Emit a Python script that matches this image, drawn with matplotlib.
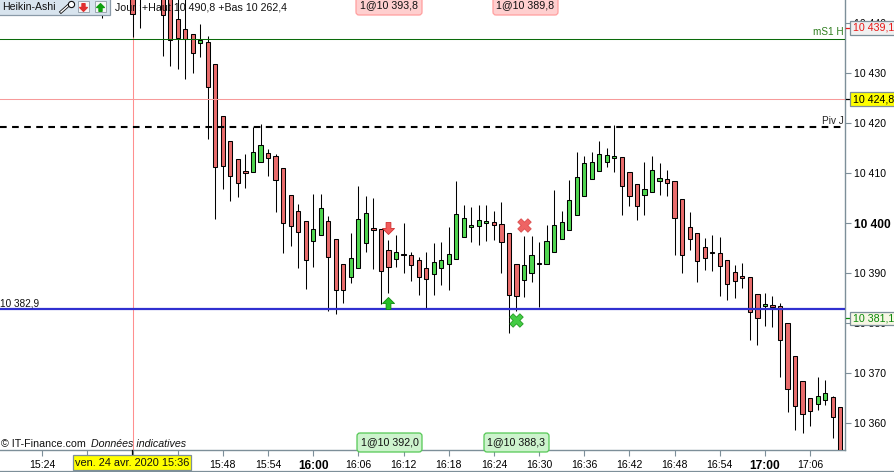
import matplotlib
matplotlib.use("Agg")
import matplotlib.pyplot as plt
from matplotlib.patches import FancyBboxPatch, Rectangle
from matplotlib.path import Path

plt.rcParams["font.family"] = ["Liberation Sans", "DejaVu Sans"]

# minutes after 15:36, one candle per minute
minutes = [-4, 0, 1, 4, 5] + list(range(6, 95))

opens = [10447, 10447, 10448, 10446, 10446, 10440.9, 10438.9, 10437.9, 10436.1, 10436.3,
         10431.9, 10421.5, 10416.5, 10412.9, 10410.5, 10410.3, 10412.3, 10414.1, 10413.5, 10411.1,
         10405.7, 10402.5, 10400.5, 10396.5, 10397.7, 10400.5, 10396.9, 10391.9, 10389.3, 10391.1,
         10396.1, 10399.1, 10398.9, 10394.7, 10392.9, 10393.9, 10393.7, 10392.7, 10391.1, 10389.9,
         10391.1, 10391.9, 10392.9, 10397.3, 10399.3, 10399.5, 10400.1, 10400.3, 10399.9, 10398.1,
         10391.9, 10388.7, 10390.1, 10392.1, 10391.9, 10394.3, 10396.9, 10398.7, 10401.7, 10405.5,
         10408.9, 10410.5, 10412.3, 10413.1, 10413.3, 10410.3, 10407.9, 10405.7, 10406.3, 10408.5,
         10408.9, 10408.5, 10404.9, 10399.3, 10398.1, 10395.3, 10394.3, 10394.1, 10392.7, 10390.3,
         10389.5, 10389.3, 10385.9, 10383.5, 10383.7, 10383.5, 10380.1, 10373.5, 10368.5, 10365.1,
         10363.9, 10364.7, 10365.3, 10363.3]
closes = [10445, 10441.9, 10446, 10441.7, 10436.7, 10437.1, 10436.9, 10434.1, 10436.7, 10427.3,
          10411.3, 10411.5, 10409.5, 10408.1, 10410.1, 10414.3, 10415.7, 10413.1, 10408.7, 10400.1,
          10399.5, 10398.3, 10392.7, 10398.9, 10403.1, 10393.3, 10386.7, 10386.7, 10393.1, 10400.9,
          10402.1, 10398.7, 10390.5, 10391.3, 10394.3, 10393.7, 10391.7, 10389.3, 10388.9, 10392.3,
          10392.7, 10393.9, 10401.9, 10401.1, 10399.7, 10400.7, 10400.5, 10399.7, 10396.3, 10385.7,
          10385.5, 10391.7, 10393.7, 10391.9, 10396.5, 10399.7, 10400.3, 10404.7, 10409.3, 10412.1,
          10412.3, 10413.9, 10413.7, 10413.5, 10407.5, 10405.5, 10403.5, 10406.9, 10410.7, 10409.1,
          10408.1, 10401.1, 10393.7, 10396.9, 10392.5, 10393.1, 10394.1, 10391.5, 10387.9, 10388.5,
          10389.1, 10382.3, 10381.1, 10383.9, 10383.3, 10376.7, 10366.9, 10363.5, 10361.9, 10362.5,
          10365.5, 10366.1, 10361.3, 10352]
highs = [10450, 10450, 10450, 10450, 10450, 10450, 10446, 10437.9, 10439.9, 10437.4,
         10431.9, 10421.5, 10416.5, 10412.9, 10413.9, 10419.2, 10419.9, 10414.9, 10413.9, 10411.1,
         10405.7, 10403.9, 10400.5, 10405.9, 10405.9, 10401.5, 10396.9, 10391.9, 10398.1, 10407.5,
         10405.5, 10405.1, 10398.9, 10396.7, 10397.7, 10400.1, 10394.3, 10393.3, 10394.3, 10396.1,
         10396.3, 10399.3, 10408.5, 10403.7, 10403.3, 10403.7, 10403.7, 10402.5, 10404.3, 10398.1,
         10391.9, 10397.5, 10397.5, 10396.3, 10399.7, 10406.7, 10402.5, 10408.7, 10414.3, 10413.5,
         10414.3, 10416.5, 10415.1, 10419.7, 10413.3, 10410.3, 10407.9, 10412.3, 10413.5, 10412.1,
         10410.7, 10408.5, 10404.9, 10402.3, 10398.1, 10397.1, 10397.7, 10397.3, 10392.7, 10391.7,
         10392.1, 10389.3, 10385.9, 10386.1, 10385.5, 10384.1, 10380.1, 10373.5, 10368.5, 10365.1,
         10369.3, 10368.7, 10365.5, 10363.3]
lows = [10441.1, 10437.3, 10439.1, 10433.5, 10431.5, 10430.9, 10428.9, 10430.1, 10433.3, 10416.9,
        10400.9, 10406.9, 10404.5, 10405.3, 10407.1, 10410.3, 10412.3, 10409.5, 10402.3, 10394.1,
        10395.5, 10391.1, 10386.9, 10391.3, 10397.7, 10382.5, 10381.9, 10384.1, 10388.1, 10391.1,
        10394.3, 10390.9, 10383.9, 10386.1, 10391.3, 10390.1, 10388.5, 10385.7, 10382.9, 10385.7,
        10387.7, 10386.7, 10392.9, 10397.3, 10396.3, 10395.7, 10396.5, 10396.7, 10390.1, 10378.1,
        10382.4, 10385.3, 10388.3, 10383.3, 10391.9, 10394.3, 10396.9, 10398.7, 10401.7, 10405.5,
        10408.9, 10410.5, 10411.3, 10410.3, 10401.7, 10403.5, 10400.7, 10401.7, 10406.3, 10405.7,
        10405.5, 10393.7, 10390.1, 10394.7, 10388.3, 10390.7, 10390.5, 10385.5, 10384.7, 10385.1,
        10387.1, 10376.7, 10375.7, 10379.5, 10379.3, 10369.3, 10362.3, 10358.7, 10358.1, 10359.5,
        10362.7, 10363.7, 10357.1, 10350]

green_level = 10436.8
pink_level = 10424.8
pivot_level = 10419.2
blue_level = 10382.9

time_ticks = list(range(-12, 91, 6))
time_labels = ["15:24", "", "", "", "15:48", "15:54", "16:00", "16:06", "16:12", "16:18",
               "16:24", "16:30", "16:36", "16:42", "16:48", "16:54", "17:00", "17:06"]
price_ticks = [10360, 10370, 10380, 10390, 10400, 10410, 10420, 10430, 10440]
price_labels = ["10 360", "10 370", "10 380", "10 390", "10 400", "10 410", "10 420", "10 430", "10 440"]

# trades: minute, price
buy_arrow = (34, 10384.0)
sell_arrow = (34, 10399.0)
sell_cross = (52, 10399.6)
buy_cross = (51, 10380.6)

RED = "#e96c6c"
GREEN = "#4fd64f"
SLATE = "#7d8f99"

fig = plt.figure(figsize=(8.95, 4.72), dpi=100)
ax = fig.add_axes([0, 22 / 472, 845.5 / 895, 450 / 472])
ax.set_xlim(-17.6, 94.7)
ax.set_ylim(10354.6, 10444.6)

ax.axvline(0, color="#ff8f8f", lw=0.75, zorder=1)

colors = [GREEN if c > o else RED for o, c in zip(opens, closes)]
ax.vlines(minutes, lows, highs, color="black", lw=0.75, zorder=2)
ax.bar(minutes, [abs(c - o) for o, c in zip(opens, closes)],
       bottom=[min(o, c) for o, c in zip(opens, closes)],
       width=0.56, color=colors, edgecolor="black", lw=0.75, zorder=3)

ax.axhline(green_level, color="#0b6b0b", lw=0.75, zorder=4)
ax.axhline(pink_level, color="#f79a9a", lw=0.75, zorder=4)
ax.axhline(pivot_level, color="black", lw=1.5, ls=(0, (3.2, 2.6)), zorder=4)
ax.axhline(blue_level, color="#3030d0", lw=1.6, zorder=4)

up_arrow = Path([(-0.5, 0), (0, 0.5), (0.5, 0), (0.2, 0), (0.2, -0.5), (-0.2, -0.5), (-0.2, 0), (-0.5, 0)], closed=True)
down_arrow = Path([(-0.5, 0), (0, -0.5), (0.5, 0), (0.2, 0), (0.2, 0.5), (-0.2, 0.5), (-0.2, 0), (-0.5, 0)], closed=True)
ax.scatter(*buy_arrow, marker=up_arrow, s=75, color="#26c026", edgecolor="#0d8a0d", lw=0.6, zorder=5)
ax.scatter(*sell_arrow, marker=down_arrow, s=75, color="#f25a5a", edgecolor="#d03030", lw=0.6, zorder=5)
ax.scatter(*sell_cross, marker="X", s=95, color="#ee6464", edgecolor="#d84040", lw=0.5, zorder=5)
ax.scatter(*buy_cross, marker="X", s=95, color="#44cc44", edgecolor="#129012", lw=0.5, zorder=5)

for s in ["top", "left"]:
    ax.spines[s].set_visible(False)
for s in ["right", "bottom"]:
    ax.spines[s].set_color(SLATE)
    ax.spines[s].set_linewidth(1.0)

ax.yaxis.tick_right()
ax.set_yticks(price_ticks, price_labels)
ax.set_xticks(time_ticks, time_labels)
ax.tick_params(axis="y", length=4, width=0.8, color=SLATE, pad=2, labelsize=7.6)
ax.tick_params(axis="x", length=4, width=0.8, color=SLATE, pad=3, labelsize=7.6)
for lab in ax.get_yticklabels():
    if lab.get_text() == "10 400":
        lab.set_fontweight("bold")
        lab.set_fontsize(8.6)
for lab in ax.get_xticklabels():
    if lab.get_text() in ("16:00", "17:00"):
        lab.set_fontweight("bold")
        lab.set_fontsize(8.6)

# overlay in pixel coordinates for the screen furniture
ov = fig.add_axes([0, 0, 1, 1], facecolor="none")
ov.set_xlim(0, 895)
ov.set_ylim(472, 0)
ov.axis("off")


def pill(x0, x1, y0, y1, txt, face, edge):
    ov.add_patch(FancyBboxPatch((x0 + 2, y0 + 2), x1 - x0 - 4, y1 - y0 - 4, boxstyle="round,pad=2,rounding_size=3",
                                fc=face, ec=edge, lw=0.9, zorder=6))
    ov.text((x0 + x1) / 2, (y0 + y1) / 2 - 0.5, txt, ha="center", va="center", fontsize=7.7, color="#111111", zorder=7)


def value_box(y0, y1, txt, face, color):
    ov.add_patch(Rectangle((850.5, y0), 46, y1 - y0, fc=face, ec=SLATE, lw=0.9, zorder=6))
    ov.text(853, (y0 + y1) / 2, txt, ha="left", va="center", fontsize=7.7, color=color, zorder=7)


pill(356, 422, -4, 15, "1@10 393,8", "#ffcfcf", "#ff9f9f")
pill(493, 558, -4, 15, "1@10 389,8", "#ffcfcf", "#ff9f9f")
pill(357, 422, 433, 452, "1@10 392,0", "#cdf3cd", "#55c855")
pill(484, 549, 433, 452, "1@10 388,3", "#cdf3cd", "#55c855")

value_box(21, 35, "10 439,1", "#f0f0f0", "#e81818")
value_box(92, 106, "10 424,8", "#ffff00", "black")
value_box(312, 325, "10 381,1", "#f6f6e4", "#0a8a0a")
ov.plot([846, 850], [28, 28], color="#e81818", lw=0.9, zorder=5)
ov.plot([846, 850], [99, 99], color="black", lw=0.9, zorder=5)
ov.plot([846, 850], [318, 318], color="#0a8a0a", lw=0.9, zorder=5)

ov.text(844, 32, "mS1 H", ha="right", va="center", fontsize=7.2, color="#2e7d1e")
ov.text(844, 120.5, "Piv J", ha="right", va="center", fontsize=7.2, color="#222222")
ov.text(0, 303.5, "10 382,9", ha="left", va="center", fontsize=7.2, color="#111111")
ov.text(115, 7, "Jour :+Haut 10 490,8 +Bas 10 262,4", ha="left", va="center", fontsize=7.7, color="#111111", zorder=7)
ov.text(1, 444, "© IT-Finance.com", ha="left", va="center", fontsize=7.7, color="#111111")
ov.text(91, 444, "Données indicatives", ha="left", va="center", fontsize=7.7, style="italic", color="#111111")

# date flag on the time axis
ov.add_patch(Rectangle((73.5, 455), 118, 15, fc="#ffff00", ec=SLATE, lw=0.9, zorder=6))
ov.text(132.5, 463, "ven. 24 avr. 2020 15:36", ha="center", va="center", fontsize=7.9, color="#111111", zorder=7)
ov.plot([132.5, 132.5], [450, 455], color="black", lw=0.9, zorder=5)

# bottom window edge
ov.add_patch(Rectangle((0, 470.5), 895, 2, fc="#dbe8f2", ec="none", zorder=6))
ov.plot([0, 895], [470.5, 470.5], color=SLATE, lw=0.9, zorder=6)

# toolbar top left
ov.add_patch(Rectangle((-2, -2), 112, 17, fc="#d8e4ee", ec="#8a9aa8", lw=0.9, zorder=6))
ov.text(2, 7.5, "Heikin-Ashi", ha="left", va="center", fontsize=7.6, color="#111111", zorder=7)
ov.plot([61, 70], [12, 4], color="#111111", lw=2.2, zorder=7)
ov.plot([61, 70], [12, 4], color="white", lw=1.0, zorder=8)
ov.scatter([71], [3.5], s=20, facecolor="white", edgecolor="#111111", lw=0.8, zorder=8)
ov.add_patch(Rectangle((78, 1), 11, 11, fc="#f6f6f6", ec="#9aa6b0", lw=0.7, zorder=7))
ov.add_patch(Rectangle((95, 1), 11, 11, fc="#f6f6f6", ec="#9aa6b0", lw=0.7, zorder=7))
ov.scatter([83.5], [7], marker=down_arrow, s=30, color="#e03030", zorder=8)
ov.scatter([100.5], [7], marker=up_arrow, s=30, color="#10a010", zorder=8)

fig.savefig("out.png", dpi=100)
